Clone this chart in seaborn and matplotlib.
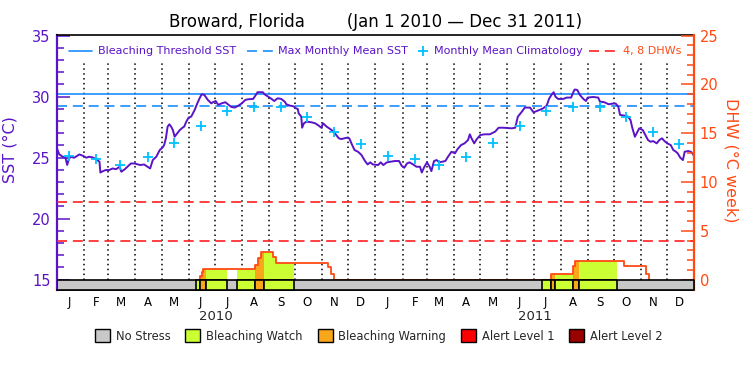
import numpy as np
import pandas as pd
import seaborn as sns
import matplotlib.pyplot as plt
from matplotlib.patches import Patch
from matplotlib.ticker import MultipleLocator
import matplotlib.dates as mdates

start = pd.Timestamp("2010-01-01")
end = pd.Timestamp("2012-01-01")

# daily SST (day offset from Jan 1 2010, deg C)
sst_day = [0, 3, 7, 10, 12, 14, 16, 20, 26, 30, 34, 37, 41, 45, 49, 50, 53, 56, 60, 64,
           68, 72, 74, 78, 81, 85, 89, 93, 96, 100, 104, 107, 110, 114, 118, 121, 123, 125, 127, 129,
           131, 133, 135, 137, 141, 144, 146, 148, 151, 154, 158, 161, 164, 166, 169, 173, 177, 179, 182, 185,
           189, 193, 196, 200, 204, 208, 212, 216, 219, 225, 228, 230, 236, 238, 242, 246, 249, 253, 257, 261,
           263, 267, 271, 274, 276, 277, 280, 281, 283, 286, 292, 296, 300, 303, 305, 309, 313, 317, 320, 323,
           326, 332, 335, 338, 341, 345, 349, 353, 356, 359, 362, 368, 371, 374, 378, 382, 387, 392, 395, 398,
           401, 404, 408, 412, 416, 418, 421, 424, 427, 429, 432, 435, 438, 441, 445, 448, 452, 456, 459, 463,
           467, 471, 473, 475, 478, 481, 485, 490, 496, 502, 506, 511, 521, 525, 528, 532, 536, 542, 546, 549,
           553, 557, 561, 564, 567, 569, 571, 574, 580, 584, 589, 591, 593, 596, 599, 603, 606, 608, 614, 620,
           622, 627, 632, 637, 640, 643, 645, 650, 654, 657, 659, 662, 664, 667, 671, 674, 677, 680, 683, 687,
           690, 693, 696, 699, 703, 706, 709, 711, 714, 717, 719, 723, 726, 728, 729]
sst_val = [25.8, 25.26, 25.07, 25.0, 24.4, 24.9, 25.07, 24.99, 25.26, 25.15, 24.99, 25.07, 25.02, 24.88, 24.66, 23.78, 23.89, 23.98, 23.98, 24.11,
           24.05, 24.25, 23.84, 24.05, 24.25, 24.52, 24.52, 24.44, 24.39, 24.44, 24.25, 24.11, 24.8, 25.07, 25.62, 25.81, 26.03, 26.58, 27.54, 27.73,
           27.54, 27.26, 26.71, 26.9, 27.26, 27.45, 27.54, 27.89, 28.28, 28.36, 28.91, 29.45, 29.92, 30.19, 30.14, 29.73, 29.45, 29.54, 29.64, 29.32,
           29.45, 29.54, 29.37, 29.15, 29.1, 29.26, 29.45, 29.73, 29.78, 29.81, 30.14, 30.36, 30.36, 30.19, 30.0, 29.81, 29.64, 29.86, 29.81, 29.59,
           29.37, 29.26, 29.21, 29.04, 28.99, 28.63, 28.36, 27.45, 27.81, 27.95, 27.89, 27.81, 27.62, 27.45, 27.81, 27.54, 27.35, 27.13, 26.85, 26.58,
           26.52, 26.63, 26.58, 26.08, 25.62, 25.48, 25.21, 24.72, 24.44, 24.61, 24.44, 24.39, 24.61, 24.39, 24.61, 24.66, 24.72, 24.72, 24.33, 24.17,
           24.52, 24.61, 24.44, 24.25, 24.25, 23.78, 24.25, 24.61, 24.25, 23.89, 24.72, 24.8, 24.61, 24.66, 24.72, 25.07, 25.48, 25.35, 25.7, 26.03,
           26.17, 26.44, 26.91, 26.58, 26.17, 26.52, 26.85, 26.91, 26.91, 27.13, 27.45, 27.45, 27.4, 27.45, 28.36, 28.71, 29.1, 29.1, 28.71, 28.8,
           28.91, 29.04, 29.26, 29.86, 30.19, 30.36, 30.0, 29.81, 29.81, 29.92, 29.92, 30.28, 30.58, 30.55, 30.14, 29.81, 29.64, 29.92, 29.97, 29.92,
           29.59, 29.54, 29.37, 29.43, 29.43, 29.18, 28.5, 28.44, 28.36, 28.08, 27.45, 26.71, 26.99, 27.4, 27.26, 26.85, 26.44, 26.3, 26.35, 26.17,
           26.44, 26.58, 26.35, 26.17, 26.03, 25.62, 25.48, 25.35, 24.99, 24.8, 25.48, 25.54, 25.48, 25.35, 25.21]

# monthly mean climatology, Jan..Dec
clim_val = [25.15, 24.88, 24.39, 25.07, 26.22, 27.56, 28.82, 29.18, 29.12, 28.32, 27.07, 26.08]
mmm = 29.2
threshold = 30.2
dhw_lines = [4, 8]

# degree heating weeks (step values)
dhw_date = ["2010-06-14", "2010-06-16", "2010-06-17", "2010-08-16", "2010-08-19", "2010-08-23",
            "2010-09-06", "2010-09-09", "2010-11-08", "2010-11-11", "2010-11-14",
            "2011-07-21", "2011-08-15", "2011-08-18", "2011-10-13", "2011-11-07", "2011-11-10"]
dhw_val = [0.4, 0.8, 1.1, 1.5, 2.2, 2.8, 2.3, 1.7, 1.3, 0.6, 0,
           0.6, 1.4, 1.9, 1.4, 0.6, 0]

# bleaching alert periods (1 = watch, 2 = warning)
alert_start = ["2010-06-10", "2010-06-14", "2010-06-21", "2010-07-26", "2010-08-16", "2010-08-26",
               "2011-07-11", "2011-07-21", "2011-07-25", "2011-08-15", "2011-08-22"]
alert_end = ["2010-06-14", "2010-06-21", "2010-07-15", "2010-08-16", "2010-08-26", "2010-09-30",
             "2011-07-21", "2011-07-25", "2011-08-15", "2011-08-22", "2011-10-05"]
alert_level = [1, 2, 1, 1, 2, 1, 1, 2, 1, 2, 1]

stress_names = ["No Stress", "Bleaching Watch", "Bleaching Warning", "Alert Level 1", "Alert Level 2"]
stress_colors = ["#c8c8c8", "#ccff33", "#faa61a", "#ff0000", "#990000"]
month_labels = list("JFMAMJJASOND")
years = [2010, 2011]

purple = "#5a14c8"
blue = "#1a8cff"
cyan = "#00c0ff"
red = "#ff2020"
orange_red = "#ff4a14"
dash = (0, (6, 3.5))

sns.set_style("white")
plt.rcParams["font.family"] = ["DejaVu Sans"]

fig = plt.figure(figsize=(7.5, 3.75), dpi=100)
ax = fig.add_axes([0.0756, 0.2267, 0.8501, 0.68])
ax2 = ax.twinx()

sst_lo, sst_hi = 14.15, 35.05
ax.set_xlim(start, end)
ax.set_ylim(sst_lo, sst_hi)
ax2.set_ylim((sst_lo - 15) * 1.25, (sst_hi - 15) * 1.25)

# month dividers
month_starts = pd.date_range("2010-02-01", "2011-12-01", freq="MS")
ax.vlines(month_starts, 15, 32.9, colors="black", linestyles=(0, (1, 2.2)), lw=1.1, zorder=1)

ax.axhline(threshold, color=blue, lw=1.2, zorder=2)
ax.axhline(mmm, color=blue, lw=1.2, ls=dash, zorder=2)

sst_dates = start + pd.to_timedelta(sst_day, unit="D")
sns.lineplot(x=sst_dates, y=sst_val, ax=ax, color=purple, lw=1.4, zorder=4)

clim_dates = [pd.Timestamp(y, m, 15) for y in years for m in range(1, 13)]
sns.scatterplot(x=clim_dates, y=clim_val * 2, ax=ax, marker="+", s=45,
                color=cyan, linewidth=1.3, zorder=5)

# DHW on the right axis
days = pd.date_range("2010-01-01", "2011-12-31", freq="D")
dhw = pd.Series(dhw_val, index=pd.to_datetime(dhw_date)).reindex(days, method="ffill").fillna(0)

for s, e, lev in zip(alert_start, alert_end, alert_level):
    m = (days >= pd.Timestamp(s)) & (days <= pd.Timestamp(e))
    ax2.fill_between(days, 0, dhw.values, where=m, step="post",
                     color=stress_colors[lev], lw=0, zorder=2)

# only draw the outline around non-zero stretches
near = (dhw > 0) | (dhw.shift(1, fill_value=0) > 0) | (dhw.shift(-1, fill_value=0) > 0)
dhw_line = dhw.where(near)
sns.lineplot(x=days, y=dhw_line.values, ax=ax2, drawstyle="steps-post",
             color=orange_red, lw=1.3, zorder=3)

for v in dhw_lines:
    ax2.axhline(v, color=red, lw=1.2, ls=dash, zorder=2)

# stress bar along the bottom
bar_lo = (sst_lo - 15) * 1.25
x0 = mdates.date2num(start)
ax2.broken_barh([(x0, mdates.date2num(end) - x0)], (bar_lo, -bar_lo),
                facecolors=stress_colors[0], edgecolors="black", lw=1.2, zorder=6)
for s, e, lev in zip(alert_start, alert_end, alert_level):
    a = mdates.date2num(pd.Timestamp(s))
    b = mdates.date2num(pd.Timestamp(e))
    ax2.broken_barh([(a, b - a)], (bar_lo, -bar_lo), facecolors=stress_colors[lev],
                    edgecolors="black", lw=1.2, zorder=7)

# x axis: month letters and years
mid_months = [pd.Timestamp(y, m, 15) for y in years for m in range(1, 13)]
ax.set_xticks(mid_months)
ax.set_xticklabels(month_labels * 2)
ax.tick_params(axis="x", length=0, labelsize=8.5, pad=4, colors="black")
for y in years:
    ax.text(pd.Timestamp(y, 7, 2), -0.105, str(y), transform=ax.get_xaxis_transform(),
            ha="center", va="center", fontsize=9.5)

# left axis
ax.set_yticks([15, 20, 25, 30, 35])
ax.yaxis.set_minor_locator(MultipleLocator(1))
ax.tick_params(axis="y", which="major", direction="in", length=9.5, width=1.1,
               colors=purple, labelsize=10.5, pad=4.5)
ax.tick_params(axis="y", which="minor", direction="in", length=5, width=1.1, colors=purple)
ax.set_ylabel("SST (°C)", color=purple, fontsize=11.5)
ax.yaxis.set_label_coords(-0.062, 0.55)

# right axis
ax2.set_yticks([0, 5, 10, 15, 20, 25])
ax2.yaxis.set_minor_locator(MultipleLocator(1))
ax2.tick_params(axis="y", which="major", direction="in", length=9.5, width=1.1,
                colors=orange_red, labelsize=10.5, pad=4)
ax2.tick_params(axis="y", which="minor", direction="in", length=5, width=1.1, colors=orange_red)
ax2.set_ylabel("DHW (°C week)", color=orange_red, fontsize=11.5, rotation=270,
               va="center", ha="center")
ax2.yaxis.set_label_coords(1.058, 0.51)
ax.set_xlabel("")

for sp in ["top", "bottom"]:
    ax.spines[sp].set_color("black")
    ax.spines[sp].set_linewidth(1.2)
    ax2.spines[sp].set_visible(False)
ax.spines["left"].set_color(purple)
ax.spines["left"].set_linewidth(1.6)
ax.spines["right"].set_visible(False)
ax2.spines["left"].set_visible(False)
ax2.spines["right"].set_color(orange_red)
ax2.spines["right"].set_linewidth(1.6)
ax.grid(False)
ax2.grid(False)

ax.set_title("Broward, Florida        (Jan 1 2010 \u2014 Dec 31 2011)",
             fontsize=12, color="black", pad=6)

# key across the top of the plot, laid out in axes fraction
ky = 0.937
tr = ax2.transAxes
ax2.plot([0.019, 0.055], [ky, ky], color=blue, lw=1.2, transform=tr)
ax2.text(0.065, ky, "Bleaching Threshold SST", color=purple, fontsize=8,
         va="center", transform=tr)
ax2.plot([0.2985, 0.339], [ky, ky], color=blue, lw=1.2, ls=dash, transform=tr)
ax2.text(0.347, ky, "Max Monthly Mean SST", color=purple, fontsize=8,
         va="center", transform=tr)
ax2.plot([0.574], [ky], color=cyan, marker="+", ms=7, mew=1.3, ls="none", transform=tr)
ax2.text(0.592, ky, "Monthly Mean Climatology", color=purple, fontsize=8,
         va="center", transform=tr)
ax2.plot([0.8355, 0.876], [ky, ky], color=red, lw=1.2, ls=dash, transform=tr)
ax2.text(0.888, ky, "4, 8 DHWs", color=orange_red, fontsize=8,
         va="center", transform=tr)

# stress legend below
patches = [Patch(facecolor=c, edgecolor="black", lw=1) for c in stress_colors]
fig.legend(patches, stress_names, ncol=5, loc="center", bbox_to_anchor=(0.505, 0.104),
           frameon=False, fontsize=8.3, handlelength=1.3, handleheight=1.3,
           handletextpad=0.5, columnspacing=1.3, borderpad=0)

fig.savefig("out.png", dpi=100)
